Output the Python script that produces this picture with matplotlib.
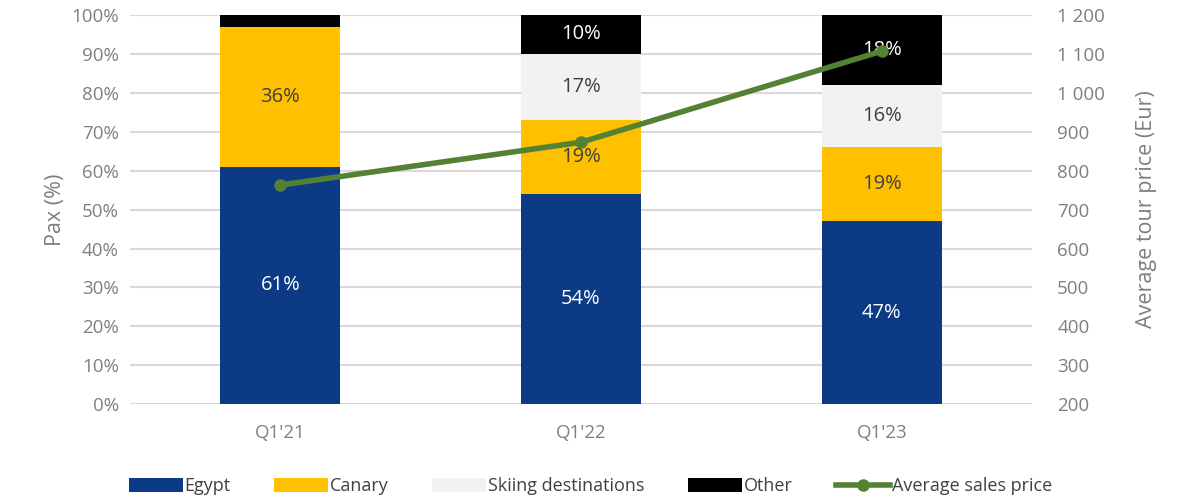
import matplotlib
matplotlib.use('Agg')
import matplotlib.pyplot as plt
import matplotlib.ticker as ticker
import numpy as np

quarters = ["Q1'21", "Q1'22", "Q1'23"]
egypt = [61, 54, 47]
canary = [36, 19, 19]
skiing = [0, 17, 16]
other = [3, 10, 18]
avg_price = [763, 873, 1107]

series_names = ['Egypt', 'Canary', 'Skiing destinations', 'Other']
series_colors = ['#0d3a85', '#ffc000', '#f2f2f2', '#000000']
label_colors = ['white', '#404040', '#404040', 'white']
line_color = '#548235'

plt.rcParams['font.family'] = ['Open Sans', 'DejaVu Sans']
grey = '#7f7f7f'

fig = plt.figure(figsize=(11.81, 4.99), dpi=100)
ax = fig.add_axes([0.110, 0.190, 0.764, 0.780])
ax2 = ax.twinx()

x = np.arange(len(quarters))
bottom = np.zeros(len(quarters))
handles = []
for vals, name, col, lcol in zip([egypt, canary, skiing, other], series_names, series_colors, label_colors):
    vals = np.array(vals, dtype=float)
    bars = ax.bar(x, vals, 0.4, bottom=bottom, color=col, label=name, zorder=2)
    handles.append(bars)
    for xi, v, b in zip(x, vals, bottom):
        if v >= 5:
            ax.text(xi, b + v / 2, f'{int(v)}%', ha='center', va='center',
                    color=lcol, fontsize=14.5, zorder=3)
    bottom += vals

ax.set_xlim(-0.5, 2.5)
ax.set_ylim(0, 100)
ax.yaxis.set_major_locator(ticker.MultipleLocator(10))
ax.yaxis.set_major_formatter(ticker.FuncFormatter(lambda v, p: f'{int(v)}%'))
ax.set_xticks(x)
ax.set_xticklabels(quarters)
ax.grid(axis='y', color='#d9d9d9', linewidth=1.5, zorder=0)
ax.set_axisbelow(True)
ax.set_ylabel('Pax (%)', color=grey, fontsize=15.5, labelpad=4)

line, = ax2.plot(x, avg_price, color=line_color, linewidth=4, marker='o',
                 markersize=8, label='Average sales price', zorder=4)
ax2.set_ylim(200, 1200)
ax2.yaxis.set_major_locator(ticker.MultipleLocator(100))
ax2.yaxis.set_major_formatter(ticker.FuncFormatter(lambda v, p: f'{int(v):,}'.replace(',', ' ')))
ax2.set_ylabel('Average tour price (Eur)', color=grey, fontsize=15.5, labelpad=22)

for a in (ax, ax2):
    for s in a.spines.values():
        s.set_visible(False)
    a.tick_params(colors=grey, labelsize=13.5, length=0)
ax.tick_params(axis='x', pad=14)
ax.tick_params(axis='y', pad=8)
ax2.tick_params(axis='y', pad=18)

fig.legend(handles + [line], series_names + ['Average sales price'],
           loc='lower center', bbox_to_anchor=(0.5, -0.025), ncol=5, frameon=False,
           fontsize=13, labelcolor='#404040', handlelength=3.0, handleheight=0.8,
           columnspacing=2.4, handletextpad=0.1)

plt.savefig('out.png', dpi=100)
plt.close()
